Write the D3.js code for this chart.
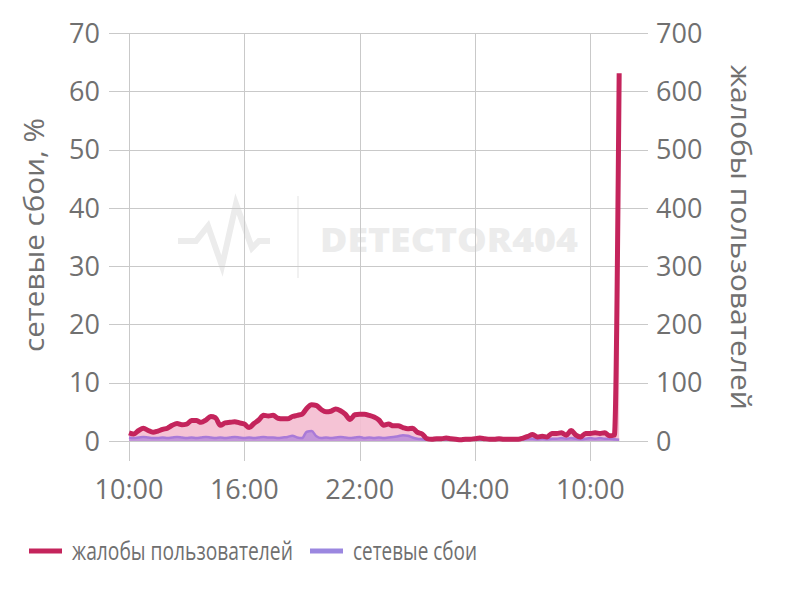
<!DOCTYPE html>
<html><head><meta charset="utf-8">
<script src="https://cdn.jsdelivr.net/npm/d3@7"></script>
<style>body{margin:0;background:#fff;}svg{display:block;}</style>
</head><body>
<svg id="c" width="800" height="597"></svg>
<script>
// ---- data ----
const startTime = "2024-01-01T10:00:00";
const stepMinutes = 15;
const complaints = [14,12,18,22,18,15,17,20,22,27,30,28,29,35,35,32,36,42,40,27,
  31,32,33,31,29,23,30,36,44,43,44,39,38,38,42,44,46,56,62,61,
  54,50,51,55,52,46,37,45,46,46,44,41,36,27,29,26,26,23,21,22,
  15,12,4,3,4,4,5,4,3,2,3,3,4,5,4,3,3,4,3,3,
  3,3,5,8,11,7,8,7,13,13,14,10,18,10,7,13,13,14,13,14,
  9,10,631];
const networkFailures = [0.6,0.5,0.6,0.7,0.6,0.5,0.5,0.6,0.5,0.6,0.7,0.6,0.5,0.6,0.5,0.6,0.7,0.6,0.5,0.6,
  0.5,0.6,0.7,0.6,0.5,0.6,0.5,0.6,0.7,0.6,0.6,0.5,0.6,0.7,0.9,0.6,0.5,1.6,1.7,0.8,
  0.5,0.6,0.5,0.6,0.7,0.6,0.5,0.6,0.7,0.5,0.6,0.5,0.6,0.5,0.6,0.7,0.8,1.0,0.9,0.6,
  0.4,0.3,0.2,0.2,0.2,0.2,0.2,0.2,0.2,0.2,0.2,0.2,0.2,0.2,0.2,0.2,0.2,0.2,0.2,0.2,
  0.2,0.3,0.3,0.4,0.4,0.3,0.4,0.3,0.4,0.4,0.5,0.4,0.5,0.4,0.3,0.4,0.5,0.4,0.5,0.4,
  0.4,0.3,0.2];
const xTickHours = [0,6,12,18,24];
const xTickLabels = ["10:00","16:00","22:00","04:00","10:00"];
const leftTicks = [0,10,20,30,40,50,60,70];
const rightTicks = [0,100,200,300,400,500,600,700];
const leftTitle = "сетевые сбои, %";
const rightTitle = "жалобы пользователей";
const legendItems = [{name:"жалобы пользователей", color:"#c4245c"},{name:"сетевые сбои", color:"#9b87e0"}];

// ---- chart ----
const svg = d3.select("#c");
const font = "'Open Sans', 'DejaVu Sans', sans-serif";
const t0 = new Date(startTime);
const tAt = i => new Date(t0.getTime() + i*stepMinutes*60000);
const x = d3.scaleTime().domain([t0, new Date(t0.getTime()+27*3600000)]).range([129, 648]);
const yL = d3.scaleLinear().domain([0,70]).range([441,33]);
const yR = d3.scaleLinear().domain([0,700]).range([441,33]);

// fit a text horizontally to a target width by real scaling
function fitText(sel, target) {
  const w = sel.node().getComputedTextLength();
  return w > 0 ? target / w : 1;
}

// watermark
const wm = svg.append("g").attr("fill","none").attr("stroke","#ececec");
wm.append("path").attr("d","M178,241 L196,241 L208,226 L222,266 L236,204 L252,248 L259,241 L270,241")
  .attr("stroke-width",6).attr("stroke-linejoin","miter");
wm.append("line").attr("x1",298).attr("x2",298).attr("y1",196).attr("y2",278).attr("stroke-width",1.5);
{
  const t = svg.append("text").attr("font-family","'Open Sans',sans-serif")
    .attr("font-weight",800).attr("font-size",34).attr("fill","#ececec").text("DETECTOR404");
  const s = fitText(t, 258);
  t.attr("transform",`translate(320,252) scale(${s},1)`);
}

// grid
const grid = svg.append("g").attr("stroke","#c9c9c9").attr("stroke-width",1);
leftTicks.forEach(v => grid.append("line").attr("x1",109).attr("x2",648)
  .attr("y1",Math.round(yL(v))+0.5).attr("y2",Math.round(yL(v))+0.5));
xTickHours.forEach(h => { const xx = Math.round(x(new Date(t0.getTime()+h*3600000)))+0.5;
  grid.append("line").attr("x1",xx).attr("x2",xx).attr("y1",33).attr("y2",461); });

// axes labels
const lab = svg.append("g").attr("font-family",font).attr("font-size",27).attr("fill","#707070");
leftTicks.forEach(v => lab.append("text").attr("x",100).attr("y",yL(v)).attr("dy","0.36em")
  .attr("text-anchor","end").text(v));
rightTicks.forEach(v => lab.append("text").attr("x",656).attr("y",yR(v)).attr("dy","0.36em")
  .attr("text-anchor","start").text(v));
xTickHours.forEach((h,i) => lab.append("text").attr("x",x(new Date(t0.getTime()+h*3600000)))
  .attr("y",499).attr("text-anchor","middle").text(xTickLabels[i]));
{
  const t = lab.append("text").attr("font-size",27).text(leftTitle);
  const s = fitText(t, 234);
  t.attr("transform",`translate(44,352) rotate(-90) scale(${s},1)`);
  const r = lab.append("text").attr("font-size",27).text(rightTitle);
  const s2 = fitText(r, 345);
  r.attr("transform",`translate(731,65) rotate(90) scale(${s2},1)`);
}

// series
const cData = complaints.map((v,i)=>({t:tAt(i),v}));
const nData = networkFailures.map((v,i)=>({t:tAt(i),v}));
const curve = d3.curveMonotoneX;
svg.append("path").datum(cData).attr("fill","#f4bcd0").attr("fill-opacity",0.9)
  .attr("d", d3.area().x(d=>x(d.t)).y0(yR(0)).y1(d=>yR(d.v)).curve(curve));
svg.append("path").datum(nData).attr("fill","#b68ad9").attr("fill-opacity",0.8)
  .attr("d", d3.area().x(d=>x(d.t)).y0(yL(0)).y1(d=>yL(d.v)).curve(curve));
svg.append("path").datum(nData).attr("fill","none").attr("stroke","#a97ad8").attr("stroke-width",2.5)
  .attr("stroke-linejoin","round")
  .attr("d", d3.line().x(d=>x(d.t)).y(d=>yL(d.v)).curve(curve));
svg.append("path").datum(cData).attr("fill","none").attr("stroke","#c4245c").attr("stroke-width",5)
  .attr("stroke-linejoin","round").attr("stroke-linecap","butt")
  .attr("d", d3.line().x(d=>x(d.t)).y(d=>yR(d.v)).curve(curve));

// legend
const lg = svg.append("g").attr("font-family",font).attr("font-size",26).attr("fill","#707070");
const legendX = [29, 310];
const legendW = [221, 124];
legendItems.forEach((it,i)=>{
  lg.append("line").attr("x1",legendX[i]).attr("x2",legendX[i]+33).attr("y1",551).attr("y2",551)
    .attr("stroke",it.color).attr("stroke-width",5);
  const t = lg.append("text").attr("dy","0.36em").text(it.name);
  const s = fitText(t, legendW[i]);
  t.attr("transform",`translate(${legendX[i]+43},551) scale(${s},1)`);
});
</script>
</body></html>
